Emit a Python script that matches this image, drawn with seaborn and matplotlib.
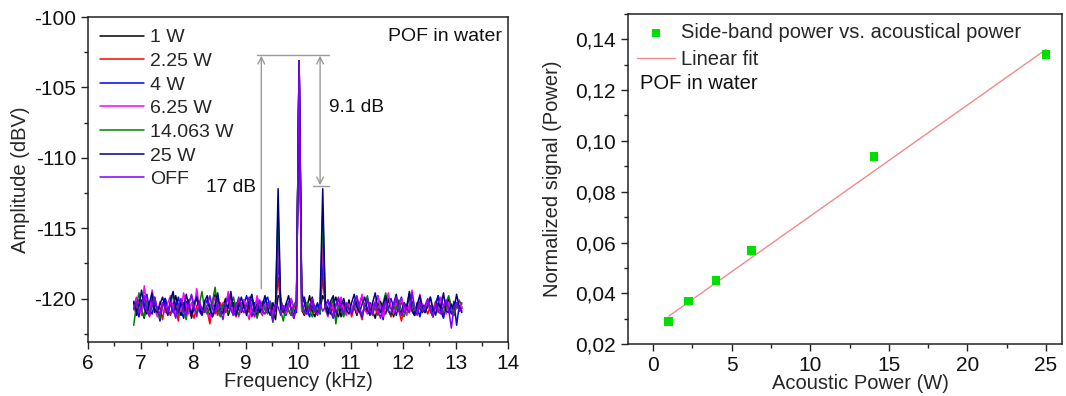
import numpy as np
import pandas as pd
import matplotlib
matplotlib.use("Agg")
import matplotlib.pyplot as plt
from matplotlib.ticker import MultipleLocator, FuncFormatter
import seaborn as sns

# ---------------- data ----------------
freq_start, freq_stop, n_bins = 6.87, 13.12, 126  # spectrum analyser bins (kHz)

series_labels = ["1 W", "2.25 W", "4 W", "6.25 W", "14.063 W", "25 W", "OFF"]
series_colors = ["#000000", "#ff0000", "#0000ff", "#ff00ff", "#008000", "#000080", "#8000ff"]

amp_1w = [
    -120.3, -121.2, -120.1, -120.9, -121.4, -120.2, -120.8, -119.9, -121.0, -120.6, -121.3, -120.4, -120.0, -120.9,
    -121.1, -120.5, -119.8, -120.7, -121.2, -120.3, -120.9, -120.1, -121.4, -120.6, -119.9, -120.8, -121.0, -120.4,
    -120.7, -121.3, -120.2, -119.7, -120.9, -121.1, -120.5, -120.0, -121.2, -120.6, -120.3, -121.0, -120.4, -120.8,
    -120.1, -121.2, -120.7, -119.9, -120.6, -121.3, -120.3, -120.9, -120.5, -121.0, -120.2, -120.8, -121.5, -119.8,
    -120.0, -120.9, -121.1, -120.3, -120.7, -121.4, -120.5, -103.1, -120.8, -121.2, -120.6, -119.8, -120.9, -121.3,
    -120.4, -120.7, -119.8, -120.2, -120.8, -121.1, -120.5, -119.9, -120.6, -121.3, -120.3, -120.9, -120.1, -121.0,
    -120.6, -121.2, -120.4, -119.8, -120.7, -121.0, -120.3, -120.9, -121.4, -120.5, -120.2, -120.8, -121.1, -120.0,
    -120.7, -121.3, -120.4, -120.9, -120.1, -121.0, -120.6, -119.9, -120.8, -121.2, -120.3, -120.7, -121.0, -120.5,
    -120.2, -120.9, -121.3, -120.4, -119.8, -120.7, -121.1, -120.5, -120.0, -120.8, -121.2, -120.3, -120.9, -120.6,
]
amp_2w25 = [
    -120.8, -120.2, -121.1, -120.5, -119.9, -120.7, -121.3, -120.4, -120.0, -121.0, -120.6, -121.5, -120.3, -120.9,
    -121.2, -120.4, -120.8, -121.6, -120.1, -120.7, -121.0, -120.3, -120.9, -121.4, -120.5, -120.2, -121.1, -120.6,
    -120.9, -121.8, -120.4, -120.7, -121.2, -120.3, -120.8, -121.0, -120.5, -119.9, -120.6, -121.3, -120.2, -120.8,
    -121.0, -120.4, -120.9, -121.3, -120.6, -120.1, -120.8, -121.2, -120.5, -120.9, -120.3, -121.1, -120.7, -118.5,
    -120.6, -121.0, -120.4, -120.9, -121.2, -120.5, -120.8, -103.1, -120.7, -121.1, -120.4, -120.9, -120.2, -121.0,
    -120.5, -120.8, -118.5, -120.6, -121.2, -120.3, -120.9, -121.4, -120.7, -120.1, -120.8, -121.0, -120.4, -121.3,
    -120.6, -120.2, -120.9, -121.5, -120.4, -120.8, -121.1, -120.3, -120.7, -121.2, -120.5, -120.9, -120.1, -120.8,
    -121.3, -120.6, -120.2, -120.9, -121.6, -120.5, -120.8, -121.0, -120.3, -120.7, -121.2, -120.4, -120.9, -120.6,
    -121.1, -120.5, -120.8, -120.2, -121.0, -120.6, -121.3, -120.4, -120.9, -120.7, -121.2, -120.5, -120.8, -120.3,
]
amp_4w = [
    -120.4, -120.9, -121.3, -120.1, -120.6, -119.7, -120.8, -121.1, -120.3, -120.7, -121.6, -120.5, -120.0, -120.9,
    -120.3, -121.0, -120.6, -119.9, -120.8, -121.4, -120.2, -120.7, -121.1, -120.4, -119.8, -120.9, -121.2, -120.5,
    -120.1, -120.8, -121.3, -120.6, -120.0, -120.9, -121.1, -120.4, -119.7, -120.7, -121.2, -120.3, -120.8, -121.0,
    -120.4, -119.8, -120.6, -121.2, -120.3, -120.9, -120.5, -121.0, -120.2, -119.9, -120.7, -121.1, -120.4, -117.3,
    -120.2, -120.9, -121.2, -120.5, -120.0, -120.8, -121.0, -103.1, -120.4, -119.9, -120.7, -121.3, -120.5, -120.9,
    -120.3, -121.1, -117.3, -120.6, -120.1, -120.9, -121.4, -120.5, -120.0, -120.8, -121.2, -120.4, -120.7, -121.0,
    -120.2, -119.9, -120.8, -121.3, -120.5, -120.1, -120.9, -121.1, -120.4, -119.8, -120.7, -121.5, -120.3, -120.8,
    -120.0, -120.6, -121.2, -120.4, -119.9, -120.9, -121.1, -120.5, -120.2, -121.0, -120.6, -121.3, -120.4, -120.8,
    -120.1, -120.7, -121.0, -120.5, -119.8, -120.9, -121.4, -120.3, -120.6, -121.1, -120.2, -121.9, -120.5, -120.9,
]
amp_6w25 = [
    -120.6, -119.9, -120.4, -121.2, -119.1, -120.5, -120.9, -119.4, -120.7, -121.3, -120.2, -120.8, -121.0, -120.3,
    -119.8, -120.7, -121.2, -120.4, -120.9, -119.6, -120.5, -121.1, -120.3, -120.8, -119.3, -120.6, -121.0, -120.2,
    -120.9, -121.4, -120.5, -119.9, -120.7, -121.2, -120.3, -120.8, -119.5, -120.6, -121.0, -120.4, -121.3, -120.7,
    -120.1, -120.9, -121.5, -120.3, -120.8, -119.8, -120.6, -121.1, -120.4, -120.9, -120.2, -121.3, -120.5, -116.0,
    -120.3, -120.8, -121.1, -120.5, -120.0, -121.2, -120.6, -103.1, -120.9, -120.4, -121.0, -120.6, -120.2, -120.8,
    -121.1, -120.4, -116.0, -120.8, -121.3, -120.2, -120.7, -121.0, -120.5, -119.9, -120.8, -121.2, -120.4, -120.9,
    -120.3, -121.0, -120.6, -119.7, -120.8, -121.1, -120.4, -120.9, -120.2, -119.8, -120.7, -121.3, -120.5, -119.6,
    -120.6, -121.1, -120.3, -120.9, -120.0, -120.7, -121.2, -120.4, -119.4, -120.8, -121.0, -119.7, -120.6, -120.9,
    -120.2, -120.8, -121.3, -120.4, -120.9, -119.9, -120.6, -121.1, -120.3, -120.8, -121.0, -120.5, -120.1, -120.7,
]
amp_14w063 = [
    -121.9, -120.5, -119.6, -120.8, -121.3, -120.2, -121.0, -120.6, -119.9, -120.9, -121.4, -120.3, -120.7, -121.1,
    -120.4, -119.7, -120.6, -121.2, -120.1, -120.9, -121.5, -120.3, -119.8, -120.7, -121.0, -120.4, -119.5, -120.8,
    -121.1, -120.6, -120.2, -119.2, -120.7, -121.3, -120.4, -120.9, -121.0, -120.5, -119.9, -120.8, -121.2, -120.3,
    -120.7, -121.0, -120.4, -119.8, -120.9, -121.4, -120.6, -120.2, -120.8, -121.1, -120.3, -121.7, -120.5, -113.8,
    -120.9, -121.6, -120.4, -120.8, -121.2, -120.5, -120.1, -103.1, -120.6, -121.0, -120.3, -120.8, -121.3, -120.5,
    -120.9, -121.1, -113.8, -120.4, -121.2, -120.7, -120.0, -121.8, -120.5, -120.9, -121.3, -120.4, -120.8, -121.0,
    -120.6, -120.2, -120.9, -121.1, -120.5, -119.8, -120.7, -121.2, -120.4, -120.8, -121.0, -120.3, -119.6, -120.9,
    -121.2, -120.5, -120.8, -120.1, -120.9, -121.3, -120.6, -119.7, -120.4, -120.8, -121.1, -120.2, -120.7, -121.0,
    -120.5, -119.9, -120.8, -121.2, -120.4, -120.7, -121.0, -120.3, -119.8, -120.6, -121.1, -120.5, -120.2, -120.4,
]
amp_25w = [
    -120.2, -120.9, -120.5, -119.4, -120.7, -121.1, -120.3, -119.6, -120.8, -121.0, -120.4, -119.9, -120.6, -121.2,
    -120.1, -119.5, -120.7, -121.0, -120.3, -120.8, -119.7, -120.5, -121.2, -120.4, -119.9, -120.6, -121.1, -120.2,
    -119.8, -120.7, -121.3, -120.4, -119.6, -120.9, -121.0, -120.3, -120.7, -119.5, -120.8, -121.2, -120.5, -119.9,
    -120.6, -121.1, -120.2, -119.7, -120.9, -120.4, -121.0, -120.5, -119.8, -120.7, -121.2, -120.3, -120.9, -112.2,
    -120.7, -121.0, -120.4, -119.8, -120.9, -121.2, -120.5, -103.1, -119.6, -120.3, -121.1, -120.6, -119.9, -120.8,
    -121.0, -120.4, -112.2, -120.6, -121.1, -120.2, -119.8, -120.9, -121.3, -120.5, -120.0, -120.8, -121.1, -120.3,
    -119.7, -120.6, -121.0, -120.4, -119.9, -120.8, -121.2, -120.3, -119.6, -120.7, -121.0, -120.5, -119.8, -120.9,
    -121.1, -120.4, -119.7, -120.8, -121.0, -120.3, -120.6, -119.5, -120.9, -121.2, -120.4, -119.8, -120.7, -121.0,
    -120.5, -119.9, -120.8, -121.1, -120.3, -120.7, -119.6, -120.9, -121.0, -120.4, -120.8, -119.7, -120.6, -121.0,
]
amp_off = [
    -120.7, -120.2, -121.0, -120.5, -119.8, -120.9, -121.2, -120.4, -119.9, -120.8, -121.1, -120.3, -120.6, -121.0,
    -120.3, -120.8, -121.4, -120.5, -120.0, -120.9, -121.2, -120.4, -119.7, -120.6, -121.3, -120.2, -120.8, -121.0,
    -120.5, -119.8, -120.7, -121.1, -120.3, -120.9, -121.5, -120.4, -120.0, -120.8, -121.2, -120.6, -119.9, -120.7,
    -121.0, -120.4, -119.9, -120.8, -121.3, -120.5, -120.1, -120.9, -121.1, -120.3, -120.7, -121.6, -120.4, -120.6,
    -121.2, -120.5, -120.9, -120.2, -120.8, -121.4, -120.6, -103.1, -120.3, -120.9, -121.1, -120.5, -120.0, -120.8,
    -121.2, -120.4, -120.9, -120.6, -120.1, -120.8, -121.3, -120.5, -119.9, -120.7, -121.0, -120.3, -120.8, -121.1,
    -120.4, -119.8, -120.7, -121.2, -120.5, -120.0, -120.9, -121.1, -120.3, -120.8, -121.4, -120.6, -120.2, -120.9,
    -121.0, -120.5, -119.9, -120.8, -121.2, -120.4, -120.7, -121.0, -119.6, -120.6, -121.1, -120.3, -120.9, -120.5,
    -120.0, -120.8, -121.3, -120.4, -120.9, -121.1, -120.5, -120.1, -120.8, -122.1, -120.6, -120.3, -120.9, -120.7,
]
spectra = [amp_1w, amp_2w25, amp_4w, amp_6w25, amp_14w063, amp_25w, amp_off]

# right panel
acoustic_power = [1.0, 2.25, 4.0, 6.25, 14.063, 25.0]
sideband_signal = [0.029, 0.037, 0.045, 0.057, 0.094, 0.134]
fit_x = [1.0, 25.0]
fit_y = [0.031, 0.136]

# ---------------- style ----------------
sns.set_theme(style="ticks")
plt.rcParams["font.family"] = ["Liberation Sans", "DejaVu Sans"]
plt.rcParams.update({
    "axes.unicode_minus": False,
    "axes.edgecolor": "#222222",
    "axes.linewidth": 1.1,
    "xtick.color": "#222222",
    "ytick.color": "#222222",
    "xtick.labelcolor": "#111111",
    "ytick.labelcolor": "#111111",
    "xtick.direction": "out",
    "ytick.direction": "out",
    "xtick.major.size": 5,
    "ytick.major.size": 5,
    "xtick.minor.size": 3,
    "ytick.minor.size": 3,
    "xtick.major.width": 1.0,
    "ytick.major.width": 1.0,
    "xtick.minor.width": 1.0,
    "ytick.minor.width": 1.0,
    "xtick.labelsize": 15,
    "ytick.labelsize": 15,
    "axes.labelsize": 14.5,
})

fig = plt.figure(figsize=(10.66, 3.96), dpi=100)
ax1 = fig.add_axes([0.0826, 0.136, 0.394, 0.821])
ax2 = fig.add_axes([0.589, 0.131, 0.407, 0.834])

# ---------------- left panel ----------------
freq = np.linspace(freq_start, freq_stop, n_bins)
for lab, col, amp in zip(series_labels, series_colors, spectra):
    df = pd.DataFrame({"f": freq, "a": amp})
    sns.lineplot(data=df, x="f", y="a", ax=ax1, color=col, lw=1.1, label=lab,
                 sort=False, estimator=None)

gray = "#9a9a9a"
ax1.plot([9.22, 10.58], [-102.7, -102.7], color=gray, lw=1.0)
ax1.plot([10.28, 10.58], [-112.0, -112.0], color=gray, lw=1.0)
ax1.annotate("", xy=(9.3, -102.75), xytext=(9.3, -119.3),
             arrowprops=dict(arrowstyle="->", color=gray, lw=1.0, shrinkA=0, shrinkB=0))
ax1.annotate("", xy=(10.42, -102.75), xytext=(10.42, -111.95),
             arrowprops=dict(arrowstyle="<->", color=gray, lw=1.0, shrinkA=0, shrinkB=0))
ax1.text(10.58, -106.4, "9.1 dB", fontsize=13.8, ha="left", va="center", color="#111111")
ax1.text(9.2, -112.1, "17 dB", fontsize=13.8, ha="right", va="center", color="#111111")
ax1.text(0.985, 0.965, "POF in water", transform=ax1.transAxes, fontsize=14,
         ha="right", va="top", color="#111111")

ax1.set_xlim(6, 14)
ax1.set_ylim(-123.1, -100)
ax1.xaxis.set_major_locator(MultipleLocator(1))
ax1.xaxis.set_minor_locator(MultipleLocator(0.5))
ax1.yaxis.set_major_locator(MultipleLocator(5))
ax1.yaxis.set_minor_locator(MultipleLocator(2.5))
ax1.set_xlabel("Frequency (kHz)", labelpad=-1)
ax1.set_ylabel("Amplitude (dBV)")
ax1.yaxis.set_label_coords(-0.138, 0.5)
leg1 = ax1.legend(loc="upper left", frameon=False, fontsize=14, handlelength=2.3,
                  handletextpad=0.3, labelspacing=0.31, borderaxespad=0.4, borderpad=0.2)

# ---------------- right panel ----------------
sns.lineplot(x=fit_x, y=fit_y, ax=ax2, color="#f08a8a", lw=1.0, label="Linear fit")
sns.scatterplot(x=acoustic_power, y=sideband_signal, ax=ax2, color="#00e000",
                marker="s", s=40, edgecolor="none", zorder=3,
                label="Side-band power vs. acoustical power")
handles, labels = ax2.get_legend_handles_labels()
ax2.legend([handles[1], handles[0]], [labels[1], labels[0]], loc="upper left",
           frameon=False, fontsize=14.5, handlelength=1.9, handletextpad=0.3,
           labelspacing=0.38, borderaxespad=0.25, borderpad=0.2, markerscale=0.9)
ax2.text(0.027, 0.79, "POF in water", transform=ax2.transAxes, fontsize=14.5,
         ha="left", va="center", color="#111111")

ax2.set_xlim(-1.6, 26)
ax2.set_ylim(0.02, 0.15)
ax2.xaxis.set_major_locator(MultipleLocator(5))
ax2.xaxis.set_minor_locator(MultipleLocator(2.5))
ax2.yaxis.set_major_locator(MultipleLocator(0.02))
ax2.yaxis.set_minor_locator(MultipleLocator(0.01))
ax2.yaxis.set_major_formatter(FuncFormatter(lambda v, p: f"{v:.2f}".replace(".", ",")))
ax2.set_xlabel("Acoustic Power (W)", labelpad=-1)
ax2.xaxis.label.set_x(0.537)
ax2.set_ylabel("Normalized signal (Power)")
ax2.yaxis.set_label_coords(-0.152, 0.5)

for ax in (ax1, ax2):
    for s in ax.spines.values():
        s.set_visible(True)
    ax.tick_params(top=False, right=False)

fig.savefig("out.png", dpi=100)
